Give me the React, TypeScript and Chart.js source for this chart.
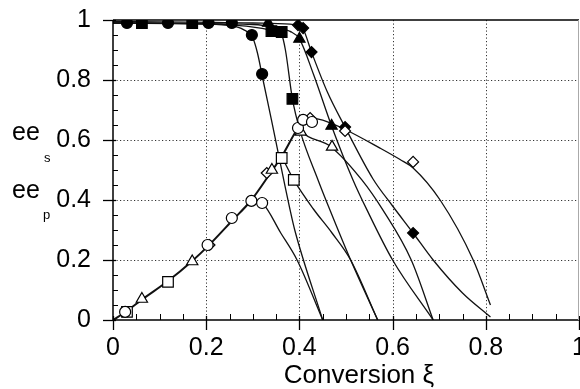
import React, { useEffect, useRef } from "react";
import { Chart, registerables } from "chart.js";

Chart.register(...registerables);

type P = [number, number];

// Axis ticks and labels
const xTickValues = [0, 0.2, 0.4, 0.6, 0.8, 1];
const xTickLabels = ["0", "0.2", "0.4", "0.6", "0.8", "1"];
const yTickValues = [0, 0.2, 0.4, 0.6, 0.8, 1];
const xAxisTitle = "Conversion ξ";
const yLabelMain = "ee";
const yLabelSubS = "s";
const yLabelSubP = "p";

// Fitted ee_s curves (substrate)
const eeSCurveA: P[] = [[0, 0.99], [0.2, 0.987], [0.25, 0.982], [0.28, 0.968], [0.3, 0.94], [0.31, 0.89], [0.322, 0.8], [0.34, 0.667], [0.38, 0.367], [0.39, 0.3], [0.45, 0]];
const eeSCurveB: P[] = [[0, 0.99], [0.25, 0.984], [0.32, 0.972], [0.345, 0.962], [0.362, 0.95], [0.37, 0.9], [0.385, 0.737], [0.401, 0.633], [0.44, 0.467], [0.466, 0.365], [0.51, 0.2], [0.568, 0]];
const eeSCurveC: P[] = [[0, 0.99], [0.3, 0.985], [0.35, 0.975], [0.38, 0.962], [0.4, 0.937], [0.43, 0.82], [0.469, 0.647], [0.515, 0.467], [0.545, 0.367], [0.6, 0.2], [0.687, 0]];
const eeSCurveD: P[] = [[0, 0.995], [0.3, 0.99], [0.38, 0.986], [0.397, 0.982], [0.408, 0.97], [0.426, 0.893], [0.46, 0.76], [0.498, 0.643], [0.558, 0.47], [0.6, 0.38], [0.644, 0.29], [0.687, 0.2], [0.75, 0.09], [0.81, 0.01]];

// Fitted ee_p curves (product)
const eePRising: P[] = [[0, 0], [0.03, 0.03], [0.062, 0.068], [0.118, 0.13], [0.17, 0.197], [0.205, 0.248], [0.255, 0.33], [0.297, 0.4], [0.34, 0.495], [0.362, 0.545], [0.397, 0.64], [0.412, 0.667]];
const eePBranchA: P[] = [[0.297, 0.4], [0.32, 0.39], [0.36, 0.29], [0.395, 0.2], [0.45, 0]];
const eePBranchB: P[] = [[0.362, 0.545], [0.388, 0.467], [0.43, 0.37], [0.47, 0.29], [0.51, 0.2], [0.568, 0]];
const eePBranchC: P[] = [[0.397, 0.645], [0.403, 0.63], [0.468, 0.577], [0.534, 0.467], [0.579, 0.367], [0.64, 0.2], [0.687, 0]];
const eePBranchD: P[] = [[0.412, 0.667], [0.425, 0.673], [0.45, 0.666], [0.498, 0.635], [0.573, 0.573], [0.616, 0.535], [0.644, 0.507], [0.702, 0.4], [0.773, 0.2], [0.81, 0.05]];

// Measured points: ee_s (filled markers)
const filledCircles: P[] = [[0.03, 0.99], [0.118, 0.99], [0.205, 0.99], [0.255, 0.99], [0.298, 0.95], [0.32, 0.82]];
const filledSquares: P[] = [[0.062, 0.99], [0.17, 0.99], [0.34, 0.963], [0.362, 0.96], [0.385, 0.737]];
const filledTriangles: P[] = [[0.333, 0.99], [0.4, 0.937], [0.469, 0.647]];
const filledDiamonds: P[] = [[0.397, 0.983], [0.408, 0.973], [0.426, 0.893], [0.498, 0.643], [0.644, 0.29]];

// Measured points: ee_p (open markers)
const openCircles: P[] = [[0.026, 0.027], [0.203, 0.25], [0.255, 0.34], [0.297, 0.397], [0.32, 0.39], [0.397, 0.64], [0.408, 0.667], [0.427, 0.66]];
const openSquares: P[] = [[0.03, 0.027], [0.118, 0.127], [0.362, 0.54], [0.388, 0.467]];
const openTriangles: P[] = [[0.062, 0.07], [0.17, 0.195], [0.341, 0.5], [0.403, 0.627], [0.47, 0.577]];
const openDiamonds: P[] = [[0.207, 0.25], [0.33, 0.49], [0.423, 0.673], [0.498, 0.63], [0.644, 0.527]];

const FONT = "'Liberation Sans', Arial, Helvetica, sans-serif";

const toXY = (arr: P[]) => arr.map(([x, y]) => ({ x, y }));

const framePlugin = {
  id: "frame",
  beforeDatasetsDraw(chart: any) {
    const { ctx, chartArea: a, scales } = chart;
    const xs = scales.x;
    const ys = scales.y;
    ctx.save();
    // dotted grid
    ctx.strokeStyle = "#333";
    ctx.lineWidth = 1;
    ctx.setLineDash([1.2, 2.3]);
    xTickValues.forEach((v) => {
      if (v <= 0 || v >= 1) return;
      const px = Math.round(xs.getPixelForValue(v)) + 0.5;
      ctx.beginPath();
      ctx.moveTo(px, a.top);
      ctx.lineTo(px, a.bottom);
      ctx.stroke();
    });
    yTickValues.forEach((v) => {
      if (v <= 0 || v >= 1) return;
      const py = Math.round(ys.getPixelForValue(v)) + 0.5;
      ctx.beginPath();
      ctx.moveTo(a.left, py);
      ctx.lineTo(a.right, py);
      ctx.stroke();
    });
    ctx.setLineDash([]);
    // minor ticks (inward)
    ctx.strokeStyle = "#000";
    ctx.lineWidth = 1;
    for (let i = 1; i < 20; i++) {
      if (i % 4 === 0) continue;
      const v = i / 20;
      const px = Math.round(xs.getPixelForValue(v)) + 0.5;
      ctx.beginPath();
      ctx.moveTo(px, a.bottom);
      ctx.lineTo(px, a.bottom - 6);
      ctx.stroke();
      const py = Math.round(ys.getPixelForValue(v)) + 0.5;
      ctx.beginPath();
      ctx.moveTo(a.left, py);
      ctx.lineTo(a.left + 5, py);
      ctx.stroke();
    }
    // major ticks (outward)
    ctx.lineWidth = 1.3;
    xTickValues.forEach((v) => {
      const px = Math.round(xs.getPixelForValue(v)) + 0.5;
      ctx.beginPath();
      ctx.moveTo(px, a.bottom - 4);
      ctx.lineTo(px, a.bottom + 10);
      ctx.stroke();
    });
    yTickValues.forEach((v) => {
      const py = Math.round(ys.getPixelForValue(v)) + 0.5;
      ctx.beginPath();
      ctx.moveTo(a.left - 10, py);
      ctx.lineTo(a.left + 3, py);
      ctx.stroke();
    });
    ctx.restore();
  },
  afterDraw(chart: any) {
    const { ctx, chartArea: a, scales } = chart;
    const xs = scales.x;
    ctx.save();
    // frame
    ctx.strokeStyle = "#000";
    ctx.lineWidth = 1.5;
    ctx.beginPath();
    ctx.moveTo(a.left, a.top);
    ctx.lineTo(a.left, a.bottom);
    ctx.lineTo(a.right, a.bottom);
    ctx.stroke();
    ctx.lineWidth = 1.3;
    ctx.beginPath();
    ctx.moveTo(a.left, a.top);
    ctx.lineTo(a.right, a.top);
    ctx.stroke();
    ctx.strokeStyle = "#aaa";
    ctx.lineWidth = 1;
    ctx.beginPath();
    ctx.moveTo(a.right - 0.5, a.top);
    ctx.lineTo(a.right - 0.5, a.bottom);
    ctx.stroke();
    ctx.fillStyle = "#000";
    // x tick labels
    ctx.font = `25px ${FONT}`;
    ctx.textAlign = "center";
    ctx.textBaseline = "alphabetic";
    xTickValues.forEach((v, i) => {
      ctx.fillText(xTickLabels[i], xs.getPixelForValue(v), 355);
    });
    // y label
    ctx.textAlign = "left";
    ctx.font = `25px ${FONT}`;
    ctx.fillText(yLabelMain, 12, 140);
    ctx.fillText(yLabelMain, 12, 198);
    ctx.font = `13px ${FONT}`;
    ctx.fillText(yLabelSubS, 44, 162);
    ctx.fillText(yLabelSubP, 43, 219);
    // x title
    ctx.font = `26px ${FONT}`;
    ctx.textAlign = "center";
    ctx.fillText(xAxisTitle, 359, 383);
    ctx.restore();
  },
};

export default function App() {
  const ref = useRef<HTMLCanvasElement>(null);
  useEffect(() => {
    const canvas = ref.current!;
    const lineDs = (d: P[], w = 1.3) => ({
      type: "line" as const,
      data: toXY(d),
      borderColor: "#111",
      borderWidth: w,
      pointRadius: 0,
      fill: false,
      showLine: true,
      cubicInterpolationMode: "monotone" as const,
      order: 2,
    });
    const markerDs = (d: P[], style: string, filled: boolean, r: number) => ({
      type: "scatter" as const,
      data: toXY(d),
      pointStyle: style,
      pointRadius: r,
      pointBackgroundColor: filled ? "#000" : "#fff",
      pointBorderColor: "#000",
      pointBorderWidth: 1.2,
      showLine: false,
      order: 1,
    });
    const chart = new Chart(canvas, {
      type: "scatter",
      data: {
        datasets: [
          markerDs(openCircles, "circle", false, 5.5),
          markerDs(openSquares, "rect", false, 7.5),
          markerDs(openTriangles, "triangle", false, 6.5),
          markerDs(openDiamonds, "rectRot", false, 5.5),
          markerDs(filledCircles, "circle", true, 5.5),
          markerDs(filledSquares, "rect", true, 7.5),
          markerDs(filledTriangles, "triangle", true, 6.5),
          markerDs(filledDiamonds, "rectRot", true, 5.5),
          lineDs(eeSCurveA),
          lineDs(eeSCurveB),
          lineDs(eeSCurveC),
          lineDs(eeSCurveD),
          lineDs(eePRising, 2),
          lineDs(eePBranchA),
          lineDs(eePBranchB),
          lineDs(eePBranchC),
          lineDs(eePBranchD),
        ] as any,
      },
      options: {
        animation: false,
        responsive: false,
        devicePixelRatio: 1,
        layout: { autoPadding: false, padding: { top: 20, right: 1, left: 0, bottom: 0 } },
        plugins: { legend: { display: false }, tooltip: { enabled: false } },
        scales: {
          x: {
            type: "linear",
            min: 0,
            max: 1,
            afterBuildTicks: (s: any) => {
              s.ticks = xTickValues.map((v) => ({ value: v }));
            },
            afterFit: (s: any) => {
              s.height = 69;
              s.paddingLeft = 0;
              s.paddingRight = 0;
            },
            ticks: { display: false },
            grid: { display: false },
            border: { display: false },
          },
          y: {
            type: "linear",
            min: 0,
            max: 1,
            afterBuildTicks: (s: any) => {
              s.ticks = yTickValues.map((v) => ({ value: v }));
            },
            afterFit: (s: any) => {
              s.width = 113;
              s.paddingTop = 0;
              s.paddingBottom = 0;
            },
            ticks: {
              autoSkip: false,
              padding: 14,
              color: "#000",
              font: { family: FONT, size: 25 },
              callback: (v: any) => String(Math.round(Number(v) * 10) / 10),
            },
            grid: { display: false },
            border: { display: false },
          },
        },
      } as any,
      plugins: [framePlugin],
    });
    return () => chart.destroy();
  }, []);
  return (
    <div style={{ position: "fixed", left: 0, top: 0, width: 580, height: 389, background: "#fff" }}>
      <canvas ref={ref} width={580} height={389} style={{ display: "block" }} />
    </div>
  );
}
